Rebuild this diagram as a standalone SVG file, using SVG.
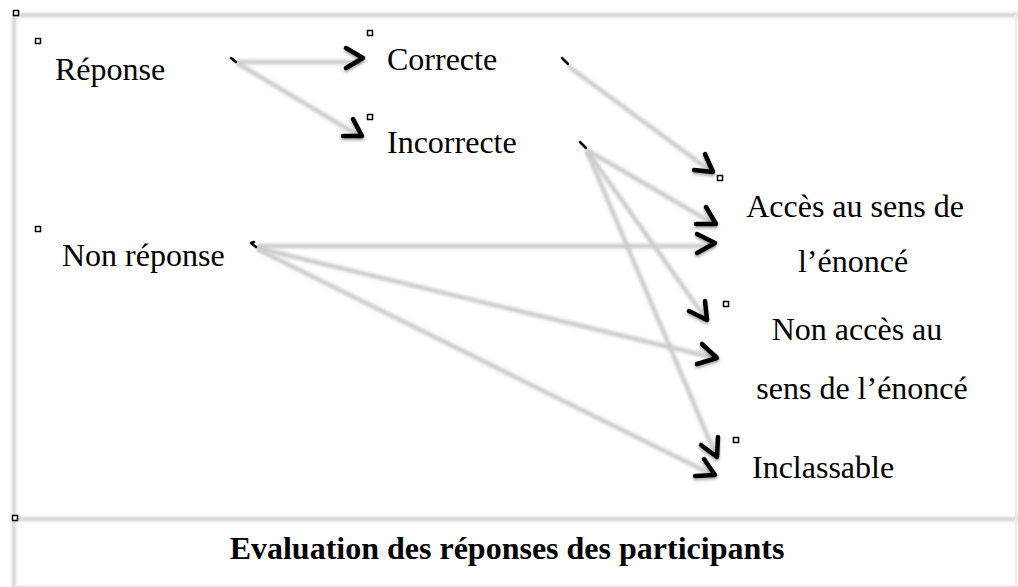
<svg xmlns="http://www.w3.org/2000/svg" width="1018" height="587" viewBox="0 0 1018 587">
<defs>
<filter id="blur" filterUnits="userSpaceOnUse" x="-10" y="-10" width="1040" height="610"><feGaussianBlur stdDeviation="1.4"/></filter>
<filter id="shadow" filterUnits="userSpaceOnUse" x="-10" y="-10" width="1040" height="610"><feDropShadow dx="0" dy="2" stdDeviation="1.5" flood-color="#000" flood-opacity="0.35"/></filter>
</defs>
<style>
.frame{fill:none;stroke:#d2d2d2;stroke-width:4;filter:url(#blur)}
.conn{fill:none;stroke:#cbcbcb;stroke-width:4.5;filter:url(#blur)}
.head{fill:none;stroke:#000;stroke-width:4.5;stroke-linecap:round;stroke-linejoin:round;filter:url(#shadow)}
.tick{fill:none;stroke:#000;stroke-width:2.5;stroke-linecap:round}
.handle{fill:#fff;stroke:#000;stroke-width:1.5}
.lbl{font-family:"Liberation Serif","Times New Roman",serif;font-size:32px;fill:#000}
.title{font-family:"Liberation Serif","Times New Roman",serif;font-size:32px;font-weight:bold;fill:#000}
</style>
<rect width="1018" height="587" fill="#fff"/>
<g id="frame">
<path class="frame" d="M14 15 H1020 M14 15 V590 M14 519 H1020"/>
<path d="M1016 15 V590 M14 586 H1020" fill="none" stroke="#ececec" stroke-width="2"/>
<rect class="handle" x="13.5" y="10.5" width="5" height="5"/>
<rect class="handle" x="12.5" y="515.5" width="5" height="5"/>
</g>
<g id="connectors">
<g transform="translate(1,3)">
<path class="conn" d="M236 59 L360 59"/>
<path class="conn" d="M236 60 L360 134"/>
<path class="conn" d="M567 63 L711 169"/>
<path class="conn" d="M586 147 L713 221"/>
<path class="conn" d="M256 243 L713 243"/>
<path class="conn" d="M256 245 L714 355"/>
<path class="conn" d="M256 246 L712 472"/>
<path class="conn" d="M586 148 L705 316"/>
<path class="conn" d="M586 148 L715 453"/>
</g>
<path class="tick" d="M231 58 L236 62"/>
<path class="tick" d="M562 58 L568 64"/>
<path class="tick" d="M580 142 L586 148"/>
<path class="tick" d="M251 243 L256 247 M251 243 L254 242"/>
<polyline class="head" points="346,48 363,58 346,68"/>
<polyline class="head" points="353,119 362,136 343,136"/>
<polyline class="head" points="705,154 713,172 694,170"/>
<polyline class="head" points="706,207 716,224 696,224"/>
<polyline class="head" points="697,234 715,243 697,253"/>
<polyline class="head" points="702,344 717,358 697,364"/>
<polyline class="head" points="704,459 715,475 695,476"/>
<polyline class="head" points="689,311 707,320 705,301"/>
<polyline class="head" points="701,445 717,457 718,437"/>
</g>
<g id="n-reponse">
<rect class="handle" x="35.5" y="38.5" width="5" height="5"/>
<text class="lbl" x="55" y="80">Réponse</text>
</g>
<g id="n-correcte">
<rect class="handle" x="367.5" y="30.5" width="5" height="5"/>
<text class="lbl" x="387" y="70">Correcte</text>
</g>
<g id="n-incorrecte">
<rect class="handle" x="367.5" y="114.5" width="5" height="5"/>
<text class="lbl" x="387" y="153">Incorrecte</text>
</g>
<g id="n-nonreponse">
<rect class="handle" x="35.5" y="226.5" width="5" height="5"/>
<text class="lbl" x="62" y="266">Non réponse</text>
</g>
<g id="n-acces">
<rect class="handle" x="717.5" y="175.5" width="5" height="5"/>
<text class="lbl" text-anchor="middle" x="855" y="217">Accès au sens de</text>
<text class="lbl" text-anchor="middle" x="853" y="272">l’énoncé</text>
</g>
<g id="n-nonacces">
<rect class="handle" x="723.5" y="301.5" width="5" height="5"/>
<text class="lbl" text-anchor="middle" x="857" y="340">Non accès au</text>
<text class="lbl" text-anchor="middle" x="862" y="399">sens de l’énoncé</text>
</g>
<g id="n-inclassable">
<rect class="handle" x="733.5" y="437.5" width="5" height="5"/>
<text class="lbl" x="752" y="478">Inclassable</text>
</g>
<g id="caption">
<text class="title" text-anchor="middle" x="507" y="559">Evaluation des réponses des participants</text>
</g>
</svg>
